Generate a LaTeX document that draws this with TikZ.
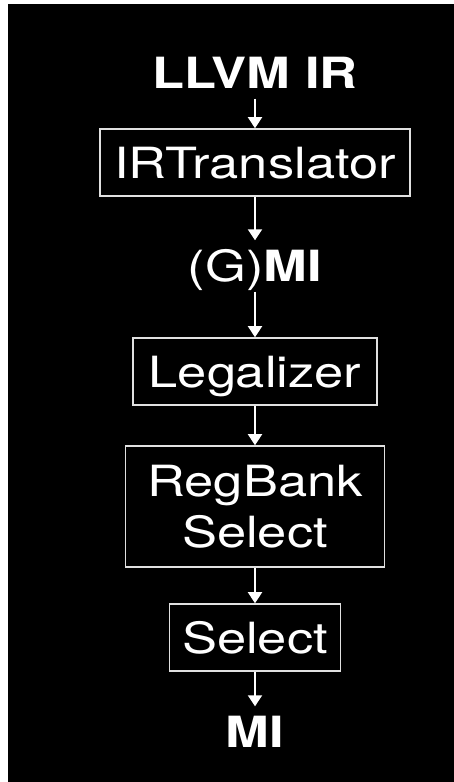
\documentclass[tikz,border=0pt]{standalone}
\usepackage{fontspec}
\setmainfont[FakeStretch=1.22]{TeX Gyre Heros}
\usetikzlibrary{arrows.meta, positioning}

\newcommand{\stagefont}{\fontsize{43}{51}\selectfont}

\begin{document}
\begin{tikzpicture}[
    x=1pt, y=-1pt,
    >=Latex,
    every node/.style={font=\stagefont, text=white},
    stage/.style={
        rectangle,
        draw=black!12,
        line width=1.6pt,
        align=center,
        text depth=0pt,
        inner sep=0pt
    },
    tag/.style={
        text height=31pt,
        text depth=0pt,
        inner ysep=10pt
    },
    tagbold/.style={
        tag,
        font=\stagefont\bfseries
    },
    arrow/.style={
        -{Triangle[width=14pt,length=11pt]},
        line width=2pt,
        draw=white
    }
]
% page and dark panel
\useasboundingbox (0,0) rectangle (454,782);
\fill[white] (0,0) rectangle (454,782);
\fill[black] (8,4) rectangle (454,782);

\node[tagbold] (llvm) at (255,73) {LLVM IR};
\node[stage, minimum width=310pt, minimum height=67pt] (irt) at (255,162.5) {IRTranslator};
\node[tag] (gmi) at (255,266) {(G)\textbf{MI}};
\node[stage, minimum width=244pt, minimum height=67pt] (legal) at (255,371.5) {Legalizer};
\node[stage, minimum width=259pt, minimum height=121pt] (rbs) at (255,506.5) {RegBank\\Select};
\node[stage, minimum width=171pt, minimum height=67pt] (sel) at (255,637.5) {Select};
\node[tagbold] (mi) at (255,732) {MI};

\draw[arrow] (llvm) -- (irt);
\draw[arrow] (irt) -- (gmi);
\draw[arrow] (gmi) -- (legal);
\draw[arrow] (legal) -- (rbs);
\draw[arrow] (rbs) -- (sel);
\draw[arrow] (sel) -- (mi);
\end{tikzpicture}
\end{document}
